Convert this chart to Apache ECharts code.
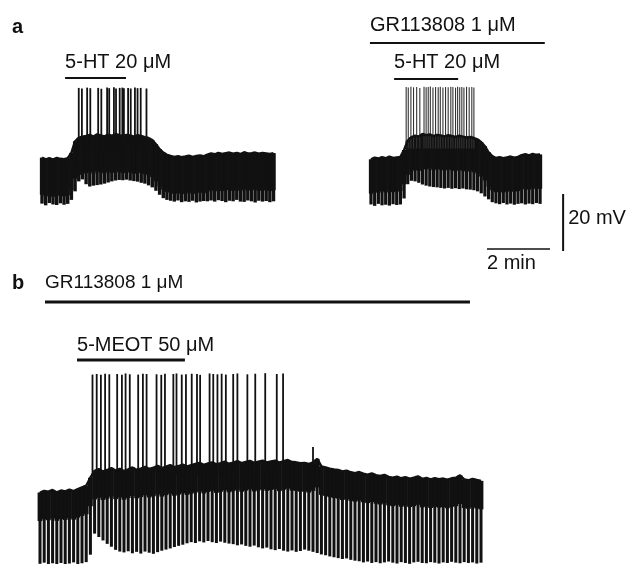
<!DOCTYPE html>
<html>
<head>
<meta charset="utf-8">
<script src="https://cdn.jsdelivr.net/npm/echarts@6/dist/echarts.min.js"></script>
<style>
html, body { margin: 0; padding: 0; background: #fff; }
#main { width: 631px; height: 564px; }
</style>
</head>
<body>
<div id="main"></div>
<script>
// ---- data (time in s, membrane potential in mV) ----

// panel a, left: 5-HT alone. one value pair per hyperpolarising pulse
var A1_PERIOD_S = 7;
var A1_TOP = [-59.2, -59.8, -59.4, -59.9, -59.3, -59.6, -59.7, -59.4,
  -57.5, -53.5, -52.2, -51.8,
  -51.6, -51.2, -51.8, -51.0, -51.4, -51.7, -51.1, -51.5, -50.9, -51.3, -51.6, -51.2, -51.4, -51.8, -51.3, -51.6, -52.0, -52.3,
  -53.0, -54.5, -56.2, -57.4, -58.2,
  -58.6, -58.9, -58.7, -59.0, -58.8, -58.5, -58.9, -58.6, -58.4, -58.7,
  -58.1, -57.7, -58.0, -57.5, -57.9, -57.6, -57.4, -57.8, -57.5, -57.9, -57.3, -57.7, -57.6, -57.4, -57.8, -57.5, -57.7, -57.9, -57.6];
var A1_BOTTOM = [-75.3, -75.9, -75.1, -75.6, -75.8, -75.2, -75.7, -75.4,
  -74.0, -71.0, -67.5, -66.8,
  -68.5, -69.3, -69.0, -68.8, -68.6, -68.3, -67.9, -67.5, -67.2, -67.0, -67.1, -66.9, -67.2, -67.4, -67.6, -68.0, -68.3, -68.9,
  -69.6, -70.8, -72.2, -73.4, -74.0,
  -74.3, -74.6, -74.2, -74.8, -74.5, -74.7, -74.3, -74.9, -74.6, -74.4,
  -74.5, -74.2, -74.6, -74.1, -74.4, -74.8, -74.3, -74.5, -74.0, -74.6, -74.7, -74.2, -74.5, -74.9, -74.3, -74.6, -74.4, -74.8, -74.5];
var A1_SPIKE_T = [70, 76, 86, 92, 107, 113, 124, 128, 137, 141, 148, 153, 156, 164, 169, 177, 182, 188, 199];
var A1_SPIKE_PEAK = [-34.7, -34.9, -34.6, -34.8, -34.7, -35.0, -34.6, -34.8, -34.5, -34.9, -34.7, -34.6, -34.8, -34.7, -34.9, -34.6, -34.8, -34.7, -34.9];
var A1_DRUG_NAME = ['5-HT 20 μM'];
var A1_DRUG_ON = [44];
var A1_DRUG_OFF = [160];

// panel a, right: 5-HT in the presence of GR113808
var A2_PERIOD_S = 7;
var A2_TOP = [-59.8, -59.2, -59.5, -59.0, -59.4, -58.8, -59.3, -59.1, -58.9,
  -56.5, -53.2,
  -52.0, -51.5, -51.8, -50.9, -51.3, -51.0, -51.6, -51.2, -51.4, -51.7, -51.3, -51.6, -51.9, -51.5, -51.8, -52.1, -51.9, -52.3,
  -52.8, -53.8, -55.2, -57.3, -58.6,
  -59.3, -59.0, -59.4, -59.1, -58.8, -59.2, -58.9,
  -58.3, -58.0, -58.4, -57.9, -58.2, -58.1];
var A2_BOTTOM = [-75.6, -76.1, -75.4, -75.9, -75.7, -76.0, -75.5, -75.8, -75.6,
  -73.5, -68.5,
  -67.3, -67.5, -68.0, -68.6, -69.0, -69.3, -69.5, -69.6, -69.8, -70.0, -69.8, -70.1, -69.9, -70.2, -70.0, -70.3, -70.4, -70.6,
  -71.0, -71.7, -72.8, -73.8, -74.8,
  -75.2, -75.5, -75.1, -75.6, -75.3, -75.7, -75.4, -75.2, -75.6, -75.3, -75.5, -75.1, -75.4];
var A2_SPIKE_T = [67, 71, 76, 81, 87, 93, 101, 105, 109, 113, 118, 123, 128, 132, 137, 142, 147, 152, 156, 161, 165, 169, 173, 177, 182, 187, 192, 196];
var A2_SPIKE_PEAK = [-34.4, -34.6, -34.3, -34.5, -34.4, -34.7, -34.3, -34.5, -34.4, -34.2, -34.6, -34.4, -34.5, -34.3,
  -34.6, -34.4, -34.5, -34.3, -34.4, -34.6, -34.3, -34.5, -34.4, -34.6, -34.3, -34.5, -34.4, -34.6];
var A2_DRUG_NAME = ['GR113808 1 μM', '5-HT 20 μM'];
var A2_DRUG_ON = [-2, 44];
var A2_DRUG_OFF = [331, 166];

// panel b: 5-MeOT in the presence of GR113808
var B_PERIOD_S = 8;
var B_TOP = [-60.2, -59.6, -59.9, -59.3, -60.1, -59.5, -59.8, -59.2, -59.7, -59.0, -58.4, -57.8,
  -55.0, -52.6,
  -52.0, -52.8, -52.3, -51.6, -52.5, -51.9, -52.7, -52.1, -51.4, -52.2, -51.8, -51.2, -51.9, -51.5, -50.8, -51.6, -51.1, -50.6, -51.3, -50.9, -50.4, -51.0,
  -50.6, -50.2, -49.8, -50.5, -50.0, -49.6, -50.3, -49.9, -49.4, -50.1, -49.7, -49.2, -49.9, -49.5, -49.1, -49.8, -49.4, -49.0, -49.6, -49.3, -49.0, -49.7, -49.2, -48.8, -49.5, -49.6, -49.9,
  -49.8, -50.2, -49.6, -48.4, -51.0, -51.4, -51.8, -52.1,
  -52.3, -52.8, -52.5, -53.1, -53.4, -53.0, -53.6, -53.9, -53.5, -54.1,
  -54.4, -54.0, -54.7, -55.0, -54.6, -55.2, -54.8, -55.3, -55.0, -54.5, -55.4, -55.1, -55.6, -55.2, -55.5,
  -55.3, -55.7, -55.2, -55.0, -54.2, -55.6, -55.9, -55.4, -55.8, -56.1];
var B_BOTTOM = [-85.2, -84.8, -85.5, -85.0, -85.3, -84.9, -85.4, -85.1, -84.7, -85.3, -85.0, -84.6,
  -82.0, -74.6, -75.8, -77.0, -78.2, -79.2, -80.3, -80.9,
  -81.2, -80.8, -81.5, -81.0, -81.6, -80.9, -81.3, -81.7, -81.1, -80.6, -80.2,
  -79.8, -79.3, -78.9, -78.5, -78.0, -77.6, -77.9, -77.3, -77.7, -77.2, -77.6, -77.9, -77.4, -77.8, -78.1,
  -78.3, -78.7, -78.4, -78.9, -79.2, -78.8, -79.4, -79.8, -79.5, -80.1, -80.4, -80.0, -80.6, -80.9, -80.5, -81.0, -80.7,
  -80.2, -80.6, -81.0, -81.4, -81.9, -82.2, -82.6, -82.9, -83.2, -83.5, -83.3, -83.8, -84.1,
  -84.3, -84.7, -84.4, -84.9, -84.6, -85.0, -84.7, -84.4, -84.8, -85.1, -84.6, -84.9, -85.2, -84.7, -84.5,
  -84.9, -85.0, -84.6, -84.8, -85.1, -84.7, -84.9, -84.5, -84.8, -85.0, -84.6, -84.9, -84.7, -85.1, -84.8];
var B_SPIKE_T = [100, 108, 116, 124, 132, 147, 156, 163, 171, 187, 196, 203, 222, 231, 238, 254, 260, 270,
  278, 289, 299, 305, 323, 330, 338, 346, 354, 368, 376, 395, 410, 429, 451, 463, 520];
var B_SPIKE_PEAK = [-18.8, -18.6, -18.9, -18.5, -18.7, -18.6, -18.9, -18.4, -18.7, -18.8, -18.5, -18.6, -18.7, -18.9,
  -18.5, -18.6, -18.4, -18.8, -18.7, -18.5, -18.6, -18.9, -18.4, -18.6, -18.7, -18.5, -18.8, -18.6, -18.4, -18.7,
  -18.5, -18.3, -18.6, -18.4, -44.2];
var B_DRUG_NAME = ['GR113808 1 μM', '5-MEOT 50 μM'];
var B_DRUG_ON = [9.5, 70.5];
var B_DRUG_OFF = [819, 276];

// calibration bars
var SCALE_T_S = 120;
var SCALE_MV = 20;
var SCALE_T_LABEL = '2 min';
var SCALE_MV_LABEL = '20 mV';

// ---- layout ----
var PX_PER_S = 0.525;
var PX_PER_MV = 2.85;
var INK = '#111';
var FONT = '"Liberation Sans", Arial, Helvetica, sans-serif';

var panels = [
  { left: 42, top: 74.5, tMax: 450, vMin: -80, vMax: -30, period: A1_PERIOD_S,
    tops: A1_TOP, bottoms: A1_BOTTOM, spikeT: A1_SPIKE_T, spikePeak: A1_SPIKE_PEAK,
    spikeBase: -56, spikeColor: INK, spikeWidth: 1.8, band: 13, frac: 0.93,
    drugName: A1_DRUG_NAME, drugOn: A1_DRUG_ON, drugOff: A1_DRUG_OFF,
    drugY: [78], textDy: [-16], barW: [2], fontSize: [20] },
  { left: 371, top: 74.5, tMax: 340, vMin: -80, vMax: -30, period: A2_PERIOD_S,
    tops: A2_TOP, bottoms: A2_BOTTOM, spikeT: A2_SPIKE_T, spikePeak: A2_SPIKE_PEAK,
    spikeBase: -56, spikeColor: '#333', spikeWidth: 1.1, band: 12, frac: 0.88,
    drugName: A2_DRUG_NAME, drugOn: A2_DRUG_ON, drugOff: A2_DRUG_OFF,
    drugY: [43, 79], textDy: [-18, -17], barW: [2, 2], fontSize: [20, 20] },
  { left: 40, top: 363.75, tMax: 850, vMin: -85.2, vMax: -15, period: B_PERIOD_S,
    tops: B_TOP, bottoms: B_BOTTOM, spikeT: B_SPIKE_T, spikePeak: B_SPIKE_PEAK,
    spikeBase: -54, spikeColor: INK, spikeWidth: 1.8, band: 10, frac: 0.72,
    drugName: B_DRUG_NAME, drugOn: B_DRUG_ON, drugOff: B_DRUG_OFF,
    drugY: [302, 360], textDy: [-19, -15], barW: [3, 3], fontSize: [19, 20] }
];

var grids = [], xAxes = [], yAxes = [], series = [];

panels.forEach(function (p, k) {
  grids.push({ left: p.left, top: p.top, width: p.tMax * PX_PER_S,
    height: (p.vMax - p.vMin) * PX_PER_MV, show: false, outerBoundsMode: 'none' });
  xAxes.push({ type: 'value', gridIndex: k, min: 0, max: p.tMax, show: false });
  yAxes.push({ type: 'value', gridIndex: k, min: p.vMin, max: p.vMax, show: false });

  var cycles = p.tops.map(function (v, i) { return [i * p.period, v, p.bottoms[i]]; });

  // the hyperpolarising pulses, one bar per pulse
  series.push({
    type: 'custom', xAxisIndex: k, yAxisIndex: k, silent: true, data: cycles,
    renderItem: function (params, api) {
      var t = api.value(0), top = api.value(1), bot = api.value(2);
      var step = api.size([p.period, 0])[0];
      var a = api.coord([t, top]);
      var b = api.coord([t, bot]);
      var c = api.coord([t, Math.max(top - p.band, bot)]);
      var w = step * p.frac;
      return { type: 'group', children: [
        { type: 'rect', shape: { x: a[0] - step / 2 - 0.3, y: a[1], width: step + 0.6, height: c[1] - a[1] },
          style: { fill: INK } },
        { type: 'rect', shape: { x: a[0] - w / 2, y: a[1], width: w, height: b[1] - a[1] },
          style: { fill: INK } }
      ] };
    }
  });

  // resting trace between pulses
  series.push({
    type: 'line', xAxisIndex: k, yAxisIndex: k, silent: true, showSymbol: false,
    data: cycles.map(function (c) { return [c[0], c[1]]; }),
    lineStyle: { color: INK, width: 2.5 }
  });

  // action potentials
  series.push({
    type: 'custom', xAxisIndex: k, yAxisIndex: k, silent: true,
    data: p.spikeT.map(function (t, i) { return [t, p.spikePeak[i]]; }),
    renderItem: function (params, api) {
      var a = api.coord([api.value(0), api.value(1)]);
      var b = api.coord([api.value(0), p.spikeBase]);
      return { type: 'line', shape: { x1: a[0], y1: a[1], x2: b[0], y2: b[1] },
        style: { stroke: p.spikeColor, lineWidth: p.spikeWidth } };
    }
  });

  // drug application bars
  series.push({
    type: 'custom', xAxisIndex: k, yAxisIndex: k, silent: true,
    data: p.drugOn.map(function (t, i) { return [t, p.drugOff[i], i]; }),
    renderItem: function (params, api) {
      var i = api.value(2);
      var s = api.coord([api.value(0), p.vMax]);
      var e = api.coord([api.value(1), p.vMax]);
      var y = p.drugY[i];
      return { type: 'group', children: [
        { type: 'rect', shape: { x: s[0], y: y - p.barW[i] / 2, width: e[0] - s[0], height: p.barW[i] },
          style: { fill: INK } },
        { type: 'text', x: s[0], y: y + p.textDy[i],
          style: { text: p.drugName[i], fill: INK, font: p.fontSize[i] + 'px ' + FONT,
            align: 'left', verticalAlign: 'middle' } }
      ] };
    }
  });
});

// calibration grid
var sk = panels.length;
grids.push({ left: 487, top: 194, width: 150 * PX_PER_S, height: 20 * PX_PER_MV, show: false, outerBoundsMode: 'none' });
xAxes.push({ type: 'value', gridIndex: sk, min: 0, max: 150, show: false });
yAxes.push({ type: 'value', gridIndex: sk, min: 0, max: 20, show: false });
series.push({
  type: 'custom', xAxisIndex: sk, yAxisIndex: sk, silent: true,
  data: [[SCALE_T_S, SCALE_MV]],
  renderItem: function (params, api) {
    var o = api.coord([0, 0]);
    var h = api.coord([api.value(0), 0]);
    var v0 = api.coord([145, 0]);
    var v1 = api.coord([145, api.value(1)]);
    return { type: 'group', children: [
      { type: 'line', shape: { x1: o[0], y1: o[1] - 2, x2: h[0], y2: h[1] - 2 }, style: { stroke: INK, lineWidth: 1.5 } },
      { type: 'line', shape: { x1: v0[0], y1: v0[1], x2: v1[0], y2: v1[1] }, style: { stroke: INK, lineWidth: 2 } },
      { type: 'text', x: o[0], y: o[1] + 12,
        style: { text: SCALE_T_LABEL, fill: INK, font: '20px ' + FONT, align: 'left', verticalAlign: 'middle' } },
      { type: 'text', x: v0[0] + 5, y: (v0[1] + v1[1]) / 2 - 4,
        style: { text: SCALE_MV_LABEL, fill: INK, font: '20px ' + FONT, align: 'left', verticalAlign: 'middle' } }
    ] };
  }
});

var chart = echarts.init(document.getElementById('main'));
chart.setOption({
  animation: false,
  backgroundColor: '#fff',
  grid: grids,
  xAxis: xAxes,
  yAxis: yAxes,
  series: series,
  graphic: [
    { type: 'text', x: 12, y: 27, style: { text: 'a', fill: INK, font: 'bold 20px ' + FONT, verticalAlign: 'middle' } },
    { type: 'text', x: 12, y: 283, style: { text: 'b', fill: INK, font: 'bold 20px ' + FONT, verticalAlign: 'middle' } }
  ]
});
</script>
</body>
</html>
